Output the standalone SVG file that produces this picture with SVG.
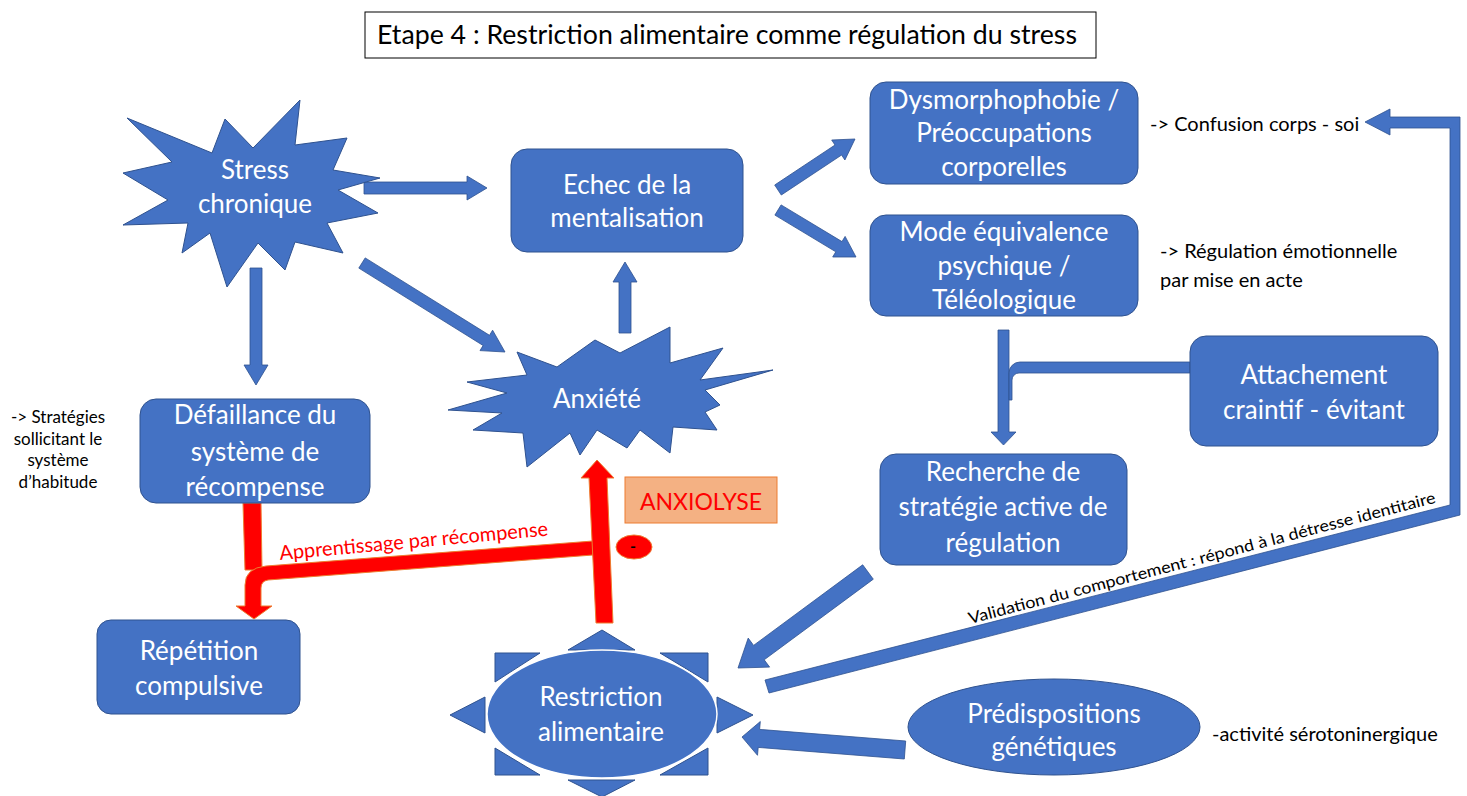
<svg xmlns="http://www.w3.org/2000/svg" width="1467" height="796" viewBox="0 0 1467 796">
<style>
.n{fill:#4472C4;stroke:#2F528F;stroke-width:1}
.a{fill:#4472C4;stroke:#2F528F;stroke-width:0.8}
.r{fill:#FF0000;stroke:#ED7D31;stroke-width:1}
.t{font-family:Lato,'Liberation Sans',sans-serif;fill:#fff;font-size:26px;text-anchor:middle}
.k{font-family:Lato,'Liberation Sans',sans-serif;fill:#000;font-size:20px}
</style>
<rect width="1467" height="796" fill="#fff"/>
<g id="title">
<rect x="365" y="12" width="731" height="46" fill="#fff" stroke="#000" stroke-width="1"/>
<text x="727" y="44" style="font-family:Lato,'Liberation Sans',sans-serif;font-size:26.7px;text-anchor:middle" fill="#000">Etape 4 : Restriction alimentaire comme régulation du stress</text>
</g>
<g id="connectors">
<polygon class="a" points="364,182 467,182 467,176 487,188 467,200 467,194 364,194"/>
<polygon class="a" points="619,333 619,282 613,282 625,262 637,282 631,282 631,333"/>
<polygon class="a" points="365.2,257.9 489.5,335.3 492.6,330.2 505,352 480,350.6 483.1,345.5 358.8,268.1"/>
<polygon class="a" points="250,268 262,268 262,365 268,365 256,385 244,365 250,365"/>
<polygon class="a" points="774.7,185 835,145 831.7,140 855,139 844.9,160 841.6,155 781.3,195"/>
<polygon class="a" points="781.1,204.9 842,241.6 845.1,236.4 856,257 832.7,257 835.8,251.8 774.9,215.1"/>
<polygon class="a" points="998,330 1009,330 1009,432 1016,432 1003.5,445 991,432 998,432"/>
<path class="a" d="M1190,362 L1020,362 A11,11 0 0 0 1009,373 L1009,400 L1012,400 L1012,380 A7,7 0 0 1 1019,373 L1190,373 Z"/>
<polygon class="a" points="862.7,564.8 753.6,645.4 748.2,638.1 738,668 769.6,667.1 764.2,659.8 873.3,579.2"/>
<polygon class="a" points="765,680 1450,505 1450,128 1390,128 1390,135 1365,122 1390,109 1390,117 1460,117 1460,515 769,693"/>
<polygon class="a" points="905.7,741 759.6,729.4 760.3,721.5 742,737 757.5,755.3 758.2,747.4 904.3,759"/>
<polygon class="r" points="243,503 261,503 262,570 245,570"/>
<path class="r" d="M593,541 L266,566 Q245,568 245,585 L245,606 L236,606 L254,619 L272,606 L261,606 L261,588 Q261,581 268,580 L593,555 Z"/>
<polygon class="r" points="596,623 613,623 607,478 614,478 597,460 581,478 589,478"/>
<text x="0" y="0" transform="translate(280,560) rotate(-5.2)" style="font-family:Lato,'Liberation Sans',sans-serif;font-size:20px" fill="#FF0000">Apprentissage par récompense</text>
<text x="0" y="0" transform="translate(970,624) rotate(-14.6)" textLength="482" lengthAdjust="spacingAndGlyphs" style="font-family:Lato,'Liberation Sans',sans-serif;font-size:16px" fill="#000">Validation du comportement : répond à la détresse identitaire</text>
</g>
<g id="stress">
<polygon class="n" points="127,118 212,153 225,119 253,148 300,100 295,145 347,138 333,170 380,178 338,190 378,213 327,223 343,253 295,242 285,270 258,243 227,287 210,233 182,253 188,223 123,225 168,200 123,173 172,162"/>
<text class="t" x="255" y="179">Stress</text>
<text class="t" x="255" y="213">chronique</text>
</g>
<g id="anxiete">
<polygon class="n" points="517,352 557,367 595,340 620,353 670,327 670,363 723,348 700,380 773,370 705,390 720,405 705,412 717,430 673,427 670,453 640,430 627,448 597,430 580,455 570,433 527,467 523,433 473,430 502,413 448,410 507,393 467,382 527,375"/>
<text class="t" x="597" y="408">Anxiété</text>
</g>
<g id="echec">
<rect class="n" x="511" y="149" width="232" height="103" rx="16"/>
<text class="t" x="627" y="194">Echec de la</text>
<text class="t" x="627" y="227">mentalisation</text>
</g>
<g id="dysmorpho">
<rect class="n" x="870" y="82" width="268" height="102" rx="16"/>
<text class="t" x="1004" y="109">Dysmorphophobie /</text>
<text class="t" x="1004" y="142">Préoccupations</text>
<text class="t" x="1004" y="176">corporelles</text>
</g>
<g id="mode">
<rect class="n" x="870" y="215" width="268" height="101" rx="16"/>
<text class="t" x="1004" y="241">Mode équivalence</text>
<text class="t" x="1004" y="275">psychique /</text>
<text class="t" x="1004" y="309">Téléologique</text>
</g>
<g id="attachement">
<rect class="n" x="1190" y="336" width="248" height="110" rx="16"/>
<text class="t" x="1314" y="384">Attachement</text>
<text class="t" x="1314" y="419">craintif - évitant</text>
</g>
<g id="recherche">
<rect class="n" x="880" y="454" width="247" height="111" rx="16"/>
<text class="t" x="1003" y="481">Recherche de</text>
<text class="t" x="1003" y="516">stratégie active de</text>
<text class="t" x="1003" y="552">régulation</text>
</g>
<g id="defaillance">
<rect class="n" x="140" y="399" width="230" height="104" rx="16"/>
<text class="t" x="255" y="424">Défaillance du</text>
<text class="t" x="255" y="461">système de</text>
<text class="t" x="255" y="496">récompense</text>
</g>
<g id="repetition">
<rect class="n" x="97" y="620" width="203" height="94" rx="14"/>
<text class="t" x="199" y="660">Répétition</text>
<text class="t" x="199" y="695">compulsive</text>
</g>
<g id="restriction">
<polygon class="n" points="568,650 602,630 635,650"/>
<polygon class="n" points="568,780 602,797 635,780"/>
<polygon class="n" points="485,697 450,715 485,733"/>
<polygon class="n" points="717,697 753,715 717,733"/>
<polygon class="n" points="495,653 540,653 495,682"/>
<polygon class="n" points="660,653 708,653 708,682"/>
<polygon class="n" points="495,748 495,775 540,775"/>
<polygon class="n" points="708,748 708,775 660,775"/>
<ellipse cx="602" cy="714" rx="115" ry="64" fill="#4472C4" stroke="#fff" stroke-width="1.5"/>
<text class="t" x="601" y="706">Restriction</text>
<text class="t" x="601" y="741">alimentaire</text>
</g>
<g id="predispositions">
<ellipse class="n" cx="1054" cy="727" rx="146" ry="48"/>
<text class="t" x="1054" y="723">Prédispositions</text>
<text class="t" x="1054" y="756">génétiques</text>
</g>
<g id="anxiolyse">
<rect x="625" y="477" width="152" height="46" fill="#F4B183" stroke="#ED7D31" stroke-width="1"/>
<text x="701" y="510" style="font-family:Lato,'Liberation Sans',sans-serif;font-size:23px;text-anchor:middle" fill="#FF0000">ANXIOLYSE</text>
</g>
<g id="minus">
<ellipse cx="634" cy="547" rx="18" ry="12" class="r"/>
<text x="633" y="552" style="font-family:Lato,'Liberation Sans',sans-serif;font-size:16px;text-anchor:middle;font-weight:bold" fill="#000">-</text>
</g>
<g id="notes">
<text class="k" x="1150" y="131">-&gt; Confusion corps - soi</text>
<text class="k" x="1160" y="258">-&gt; Régulation émotionnelle</text>
<text class="k" x="1160" y="287">par mise en acte</text>
<text class="k" x="1212" y="741">-activité sérotoninergique</text>
<g style="font-family:Lato,'Liberation Sans',sans-serif;font-size:17px;text-anchor:middle" fill="#000">
<text x="58" y="423">-&gt; Stratégies</text>
<text x="58" y="445">sollicitant le</text>
<text x="58" y="466">système</text>
<text x="58" y="488">d’habitude</text>
</g>
</g>
</svg>
